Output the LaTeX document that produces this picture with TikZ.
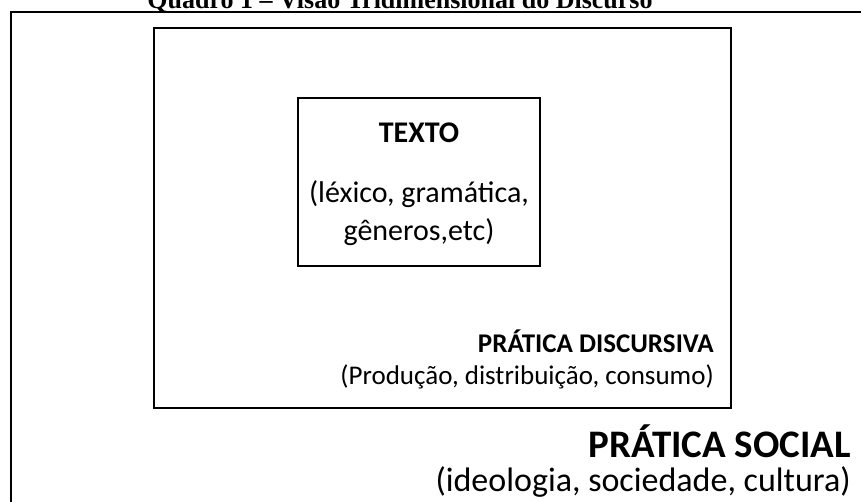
\documentclass[tikz,border=0pt]{standalone}
\usepackage{fontspec}
\setmainfont{Carlito}
\newfontfamily\titlefont{Liberation Serif}
\tikzset{
  boxline/.style={draw=black, line width=2pt},
  bodytext/.style={inner sep=0pt, font=\fontsize{27}{32}\selectfont},
  headtext/.style={inner sep=0pt, font=\fontsize{27}{32}\selectfont\bfseries},
  innerbody/.style={inner sep=0pt, font=\fontsize{30}{36}\selectfont},
  innerhead/.style={inner sep=0pt, font=\fontsize{30}{36}\selectfont\bfseries},
  socialbody/.style={inner sep=0pt, font=\fontsize{34}{38}\selectfont},
  socialhead/.style={inner sep=0pt, font=\fontsize{39}{42}\selectfont\bfseries},
  titletext/.style={inner sep=0pt, font=\titlefont\fontsize{26}{30}\selectfont\bfseries}
}
\begin{document}
\begin{tikzpicture}[x=1pt,y=-1pt]
\useasboundingbox (0,0) rectangle (861,501);
\clip (0,0) rectangle (861,501);
\fill[white] (0,0) rectangle (861,501);
% title (cut by the top edge)
\node[titletext, anchor=base] (title) at (400,8) {Quadro 1 – Visão Tridimensional do Discurso};
% outer box (social practice)
\draw[boxline] (11,12) rectangle (880,520);
% middle box (discursive practice)
\draw[boxline] (154,28) rectangle (731,408);
% inner box (text)
\draw[boxline] (298,98) rectangle (540,266);
% inner texts
\node[innerhead, anchor=base] (texto) at (419,142) {TEXTO};
\node[innerbody, anchor=base] (lexico) at (419,202) {(léxico, gramática,};
\node[innerbody, anchor=base] (generos) at (419,240) {gêneros,etc)};
% discursive practice
\node[headtext, anchor=base east] (pd) at (714,352) {PRÁTICA DISCURSIVA};
\node[bodytext, anchor=base east] (prod) at (714,384) {(Produção, distribuição, consumo)};
% social practice
\node[socialhead, anchor=base east] (ps) at (851,457) {PRÁTICA SOCIAL};
\node[socialbody, anchor=base east] (ideo) at (851,491) {(ideologia, sociedade, cultura)};
\end{tikzpicture}
\end{document}
